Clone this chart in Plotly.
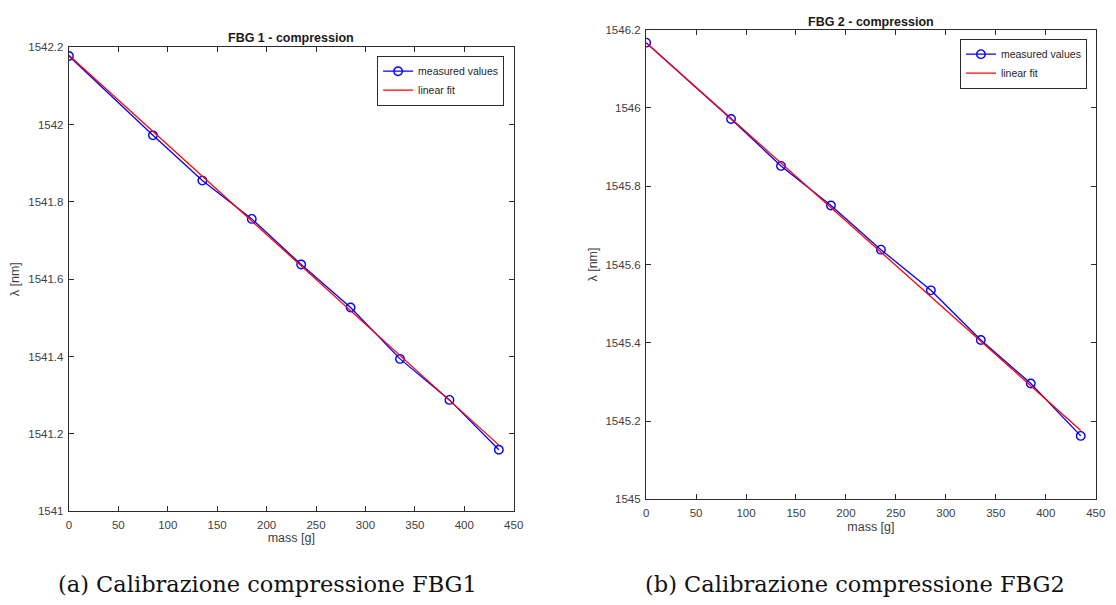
import plotly.graph_objects as go

mass = [0, 85, 135, 185, 235, 285, 335, 385, 435]
fbg1 = [1542.177, 1541.972, 1541.855, 1541.756, 1541.638, 1541.527, 1541.394, 1541.288, 1541.159]
fbg2 = [1546.167, 1545.972, 1545.852, 1545.751, 1545.638, 1545.534, 1545.407, 1545.296, 1545.162]
fit_x = [0, 435]
fit1 = [1542.179, 1541.171]
fit2 = [1546.167, 1545.176]

x_ticks = [0, 50, 100, 150, 200, 250, 300, 350, 400, 450]
y1_ticks = [1541, 1541.2, 1541.4, 1541.6, 1541.8, 1542, 1542.2]
y2_ticks = [1545, 1545.2, 1545.4, 1545.6, 1545.8, 1546, 1546.2]

W, H = 1116, 605
BLUE = "#0000ff"
RED = "#ff0000"
AX = "#2b2b2b"
TXT = "#404040"
SANS = "Liberation Sans, Arial, sans-serif"
SERIF = "DejaVu Serif, serif"

L = dict(x0=66.7, x1=516.7, y0=42.0, y1=515.5)
R = dict(x0=650.7, x1=1105.6, y0=24.2, y1=503.3)

fig = go.Figure()
fig.add_trace(go.Scatter(x=mass, y=fbg1, mode="lines+markers", name="measured values",
                         line=dict(color=BLUE, width=1.3),
                         marker=dict(symbol="circle-open", size=8.5, color=BLUE, line=dict(width=1.4)),
                         xaxis="x", yaxis="y", legend="legend"))
fig.add_trace(go.Scatter(x=fit_x, y=fit1, mode="lines", name="linear fit",
                         line=dict(color=RED, width=1.3), xaxis="x", yaxis="y", legend="legend"))
fig.add_trace(go.Scatter(x=mass, y=fbg2, mode="lines+markers", name="measured values",
                         line=dict(color=BLUE, width=1.3),
                         marker=dict(symbol="circle-open", size=8.5, color=BLUE, line=dict(width=1.4)),
                         xaxis="x2", yaxis="y2", legend="legend2"))
fig.add_trace(go.Scatter(x=fit_x, y=fit2, mode="lines", name="linear fit",
                         line=dict(color=RED, width=1.3), xaxis="x2", yaxis="y2", legend="legend2"))


def xax(b, anchor):
    return dict(domain=[b["x0"] / W, b["x1"] / W], anchor=anchor, range=[0, 450], tickvals=x_ticks,
                ticktext=[str(v) for v in x_ticks], ticks="inside", ticklen=5, tickcolor=AX,
                showline=True, linecolor=AX, linewidth=1.3, mirror="ticks", showgrid=False,
                zeroline=False, tickfont=dict(family=SANS, size=11.5, color=TXT),
                ticklabelstandoff=3,
                title=dict(text="mass [g]", font=dict(family=SANS, size=12.5, color=TXT), standoff=3))


def yax(b, anchor, rng, tv):
    return dict(domain=[1 - b["y1"] / H, 1 - b["y0"] / H], anchor=anchor, range=rng, tickvals=tv,
                ticktext=[f"{v:g}" for v in tv], ticks="inside", ticklen=5, tickcolor=AX,
                showline=True, linecolor=AX, linewidth=1.3, mirror="ticks", showgrid=False,
                zeroline=False, tickfont=dict(family=SANS, size=11.5, color=TXT),
                ticklabelstandoff=2,
                title=dict(text="λ [nm]", font=dict(family=SANS, size=12.5, color=TXT), standoff=5))


def legend(xr, yt):
    return dict(x=xr, y=yt, xanchor="right", yanchor="top", xref="paper", yref="paper",
                bgcolor="white", bordercolor=AX, borderwidth=1,
                font=dict(family=SANS, size=10.5, color="#262626"),
                tracegroupgap=0, itemwidth=30)


fig.update_layout(
    width=W, height=H,
    margin=dict(l=0, r=0, t=0, b=0),
    paper_bgcolor="white", plot_bgcolor="white",
    xaxis=xax(L, "y"),
    yaxis=yax(L, "x", [1541, 1542.2], y1_ticks),
    xaxis2=xax(R, "y2"),
    yaxis2=yax(R, "x2", [1545, 1546.2], y2_ticks),
    legend=legend(507 / W, 1 - 50.7 / H),
    legend2=legend(1096.7 / W, 1 - 33.3 / H),
    showlegend=True,
    annotations=[
        dict(text="<b>FBG 1 - compression</b>", x=(L["x0"] + L["x1"]) / 2 / W, y=1 - 33 / H,
             xref="paper", yref="paper", showarrow=False, xanchor="center", yanchor="middle",
             font=dict(family=SANS, size=12.5, color="#1a1a1a")),
        dict(text="<b>FBG 2 - compression</b>", x=(R["x0"] + R["x1"]) / 2 / W, y=1 - 16 / H,
             xref="paper", yref="paper", showarrow=False, xanchor="center", yanchor="middle",
             font=dict(family=SANS, size=12.5, color="#1a1a1a")),
        dict(text="(a) Calibrazione compressione FBG1", x=267.5 / W, y=1 - 590 / H,
             xref="paper", yref="paper", showarrow=False, xanchor="center", yanchor="middle",
             font=dict(family=SERIF, size=22.5, color="#111111")),
        dict(text="(b) Calibrazione compressione FBG2", x=862 / W, y=1 - 590 / H,
             xref="paper", yref="paper", showarrow=False, xanchor="center", yanchor="middle",
             font=dict(family=SERIF, size=22.5, color="#111111")),
    ],
)

fig.write_html("out.html")
